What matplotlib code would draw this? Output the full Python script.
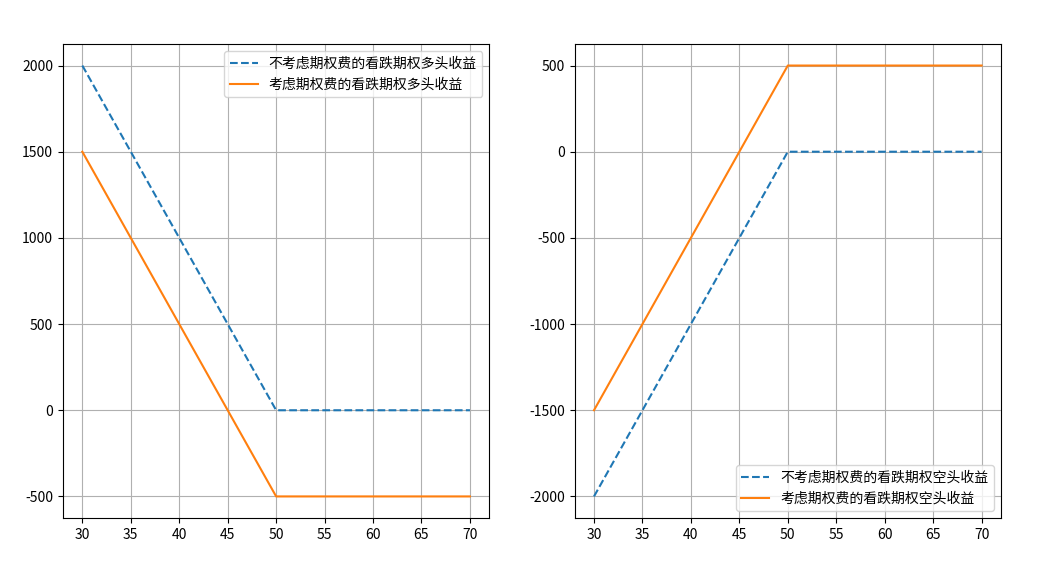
import matplotlib
matplotlib.use("Agg")
import matplotlib.pyplot as plt

plt.rcParams['font.family'] = ['Noto Sans CJK SC', 'DejaVu Sans']
plt.rcParams['axes.unicode_minus'] = False

# 标的价格
price = [30, 35, 40, 45, 50, 55, 60, 65, 70]
# 看跌期权多头
long_no_fee = [2000, 1500, 1000, 500, 0, 0, 0, 0, 0]
long_fee = [1500, 1000, 500, 0, -500, -500, -500, -500, -500]
# 看跌期权空头
short_no_fee = [-2000, -1500, -1000, -500, 0, 0, 0, 0, 0]
short_fee = [-1500, -1000, -500, 0, 500, 500, 500, 500, 500]

fig, (ax1, ax2) = plt.subplots(1, 2, figsize=(10.44, 5.64), dpi=100)
fig.subplots_adjust(left=0.0603, right=0.9588, top=0.922, bottom=0.0816, wspace=0.2)

ax1.plot(price, long_no_fee, '--', label='不考虑期权费的看跌期权多头收益')
ax1.plot(price, long_fee, '-', label='考虑期权费的看跌期权多头收益')
ax1.grid(True)
ax1.legend(loc='upper right')

ax2.plot(price, short_no_fee, '--', label='不考虑期权费的看跌期权空头收益')
ax2.plot(price, short_fee, '-', label='考虑期权费的看跌期权空头收益')
ax2.grid(True)
ax2.legend(loc='lower right')

fig.savefig('out.png')
